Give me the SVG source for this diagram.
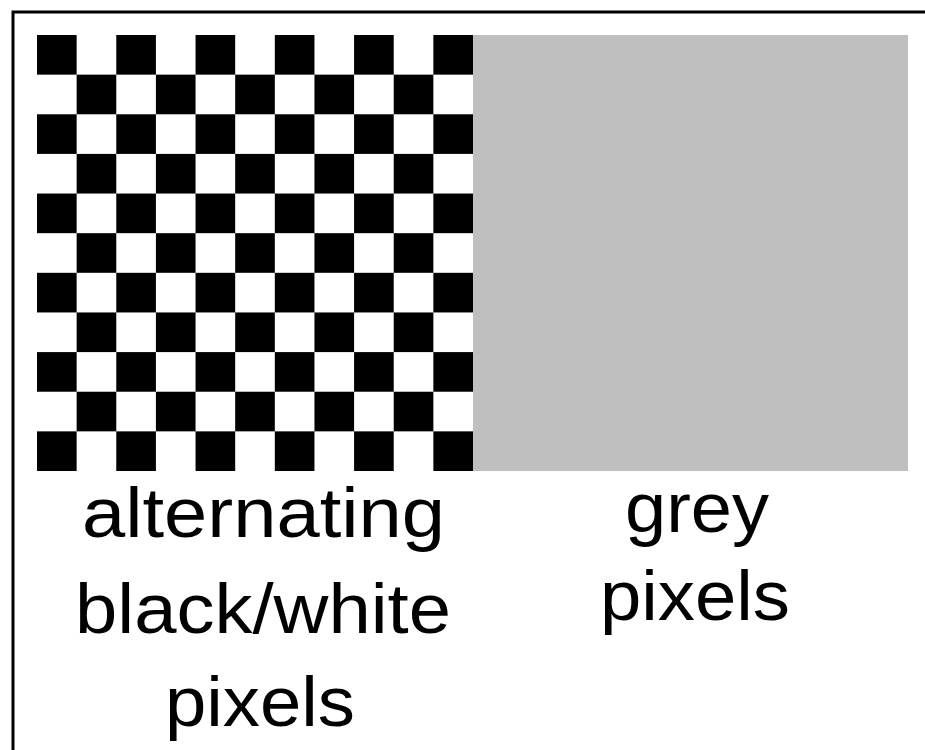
<svg xmlns="http://www.w3.org/2000/svg" width="925" height="750" viewBox="0 0 925 750">
  <defs>
    <!-- 2x2 checker tile, black in the top-left and bottom-right cells -->
    <pattern id="checker" patternUnits="userSpaceOnUse" x="37" y="35" width="79.2727" height="79.2727">
      <rect x="0" y="0" width="79.2727" height="79.2727" fill="#ffffff"/>
      <rect x="0" y="0" width="39.6364" height="39.6364" fill="#000000"/>
      <rect x="39.6364" y="39.6364" width="39.6364" height="39.6364" fill="#000000"/>
    </pattern>
    <style>
      .label { font-family: "Liberation Sans", Arial, Helvetica, sans-serif; font-size: 70px; fill: #000000; }
    </style>
  </defs>

  <rect x="0" y="0" width="925" height="750" fill="#ffffff"/>

  <!-- frame (right and bottom edges run past the canvas) -->
  <rect x="13" y="12" width="913.8" height="760" fill="none" stroke="#000000" stroke-width="3"/>

  <!-- left half: 11 x 11 checkerboard -->
  <g id="checkerboard">
    <rect x="37" y="35" width="436" height="436" fill="url(#checker)"/>
  </g>

  <!-- right half: flat grey -->
  <g id="grey-block">
    <rect x="473" y="35" width="435" height="436" fill="#bfbfbf"/>
  </g>

  <!-- captions -->
  <g id="left-caption">
    <text class="label" x="82" y="537" textLength="363" lengthAdjust="spacingAndGlyphs">alternating</text>
    <text class="label" x="75" y="633" textLength="376" lengthAdjust="spacingAndGlyphs">black/white</text>
    <text class="label" x="165" y="726" textLength="190" lengthAdjust="spacingAndGlyphs">pixels</text>
  </g>
  <g id="right-caption">
    <text class="label" x="625" y="532" textLength="144" lengthAdjust="spacingAndGlyphs">grey</text>
    <text class="label" x="600" y="620" textLength="190" lengthAdjust="spacingAndGlyphs">pixels</text>
  </g>
</svg>
